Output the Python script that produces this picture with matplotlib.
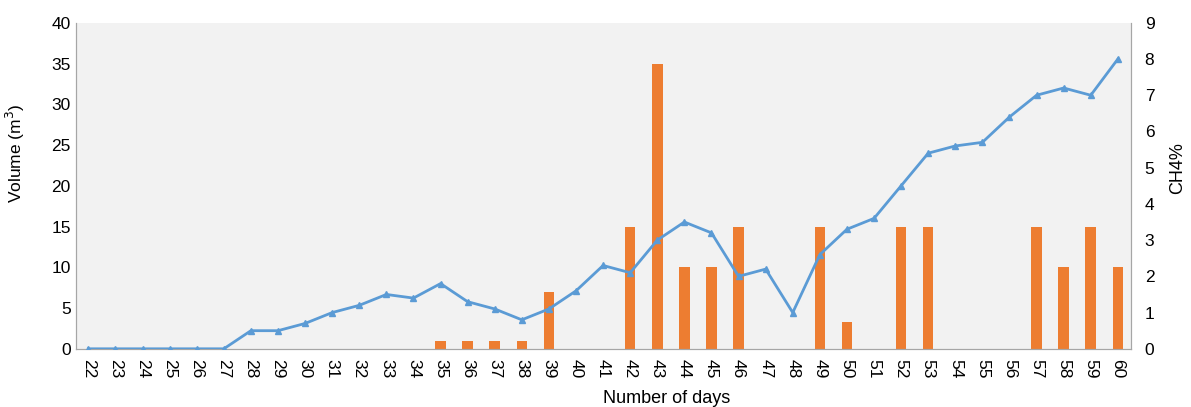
import matplotlib.pyplot as plt
import numpy as np

plt.rcParams['font.family'] = ['Liberation Sans', 'DejaVu Sans']

days = list(range(22, 61))

# biogas volume (m3), bars on the left axis
volume = [0, 0, 0, 0, 0, 0, 0, 0, 0, 0, 0, 0, 0,
          1, 1, 1, 1, 7, 0, 0, 15, 35, 10, 10, 15, 0, 0,
          15, 3.3, 0, 15, 15, 0, 0, 0, 15, 10, 15, 10]

# methane content (%), line on the right axis
ch4 = [0, 0, 0, 0, 0, 0, 0.5, 0.5, 0.7, 1.0, 1.2, 1.5, 1.4,
       1.8, 1.3, 1.1, 0.8, 1.1, 1.6, 2.3, 2.1, 3.0, 3.5, 3.2, 2.0, 2.2, 1.0,
       2.6, 3.3, 3.6, 4.5, 5.4, 5.6, 5.7, 6.4, 7.0, 7.2, 7.0, 8.0]

x = np.arange(len(days))

fig = plt.figure(figsize=(11.91, 4.07), dpi=100)
ax = fig.add_axes([0.0635, 0.143, 0.886, 0.801])
ax.set_facecolor('#f2f2f2')
ax.bar(x, volume, width=0.39, color='#ed7d31', zorder=2)
ax.set_ylim(0, 40)
ax.set_yticks(range(0, 41, 5))
ax.set_xlim(-0.47, len(days) - 0.52)
ax.set_xticks(x)
ax.set_xticklabels(days, rotation=270, fontsize=12.5)
ax.tick_params(axis='both', length=0, labelsize=12.5)
ax.tick_params(axis='x', pad=7)
ax.set_ylabel('Volume (m$^3$)', fontsize=12.5)
ax.yaxis.set_label_coords(-0.046, 0.6)
ax.set_xlabel('Number of days', fontsize=13)
ax.xaxis.set_label_coords(0.56, -0.125)

ax2 = ax.twinx()
ax2.plot(x, ch4, color='#5b9bd5', linewidth=2, marker='^', markersize=5, zorder=3)
ax2.set_ylim(0, 9)
ax2.set_yticks(range(0, 10))
ax2.tick_params(axis='y', length=0, labelsize=12.5, pad=10)
ax2.set_ylabel('CH4%', fontsize=13)
ax2.yaxis.set_label_coords(1.036, 0.555)

for a in (ax, ax2):
    a.spines['top'].set_visible(False)
    for s in ('left', 'right', 'bottom'):
        a.spines[s].set_color('#a6a6a6')

plt.savefig('out.png', dpi=100)
